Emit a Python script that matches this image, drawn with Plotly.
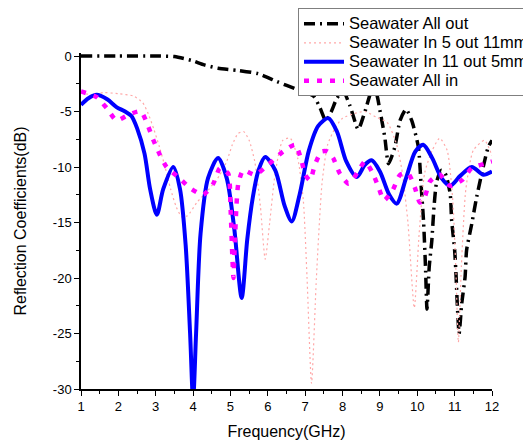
import plotly.graph_objects as go

# ---------------- data ----------------
f_out = [1.0, 2.0, 3.0, 3.5, 3.96, 4.3, 4.67, 5.2, 5.75, 6.24, 6.77, 7.22, 7.4, 7.55, 7.7, 7.85,
         8.02, 8.2, 8.42, 8.6, 8.8, 8.9, 9.0, 9.13, 9.23, 9.4, 9.54, 9.7, 9.85, 10.03, 10.1,
         10.17, 10.22, 10.26, 10.32, 10.39, 10.45, 10.52, 10.64, 10.75, 10.88, 10.92, 11.0,
         11.04, 11.07, 11.12, 11.19, 11.28, 11.32, 11.46, 11.59, 11.9, 12.0]
s_out = [0.0, 0.0, 0.0, -0.05, -0.4, -0.8, -1.1, -1.3, -1.6, -2.3, -3.0, -3.6, -4.7, -5.8, -5.0, -3.8,
         -3.2, -4.5, -6.6, -5.0, -3.0, -3.3, -4.9, -7.3, -9.7, -8.2, -5.8, -4.8, -5.8, -8.2, -11.5,
         -15.0, -19.0, -22.8, -19.0, -16.6, -13.5, -11.3, -10.3, -10.6, -12.4, -14.8, -17.5,
         -19.9, -22.3, -25.0, -22.3, -19.9, -17.5, -15.1, -12.7, -8.2, -7.6]

f_5_11 = [1.0, 1.3, 1.6, 2.0, 2.4, 2.65, 2.8, 2.95, 3.1, 3.25, 3.4, 3.55, 3.7, 3.85, 4.1, 4.4, 4.7,
          4.9, 5.05, 5.2, 5.35, 5.5, 5.65, 5.8, 5.93, 6.05, 6.2, 6.4, 6.6, 6.8, 6.95, 7.05, 7.17,
          7.3, 7.45, 7.6, 7.8, 8.0, 8.3, 8.6, 8.9, 9.2, 9.45, 9.6, 9.75, 9.92, 10.05, 10.2, 10.4,
          10.6, 10.8, 10.95, 11.03, 11.1, 11.18, 11.3, 11.5, 11.8, 12.0]
s_5_11 = [-3.3, -3.5, -3.3, -3.4, -3.6, -4.2, -5.2, -6.6, -8.2, -10.0, -12.0, -13.6, -14.5, -14.4,
          -13.2, -12.1, -10.8, -9.5, -8.0, -7.0, -6.8, -7.6, -9.5, -13.5, -18.3, -15.0, -10.5, -7.6,
          -7.4, -9.2, -13.0, -20.0, -29.5, -20.0, -11.5, -8.0, -6.5, -5.6, -5.2, -5.0, -5.5, -6.0,
          -8.0, -10.5, -15.0, -22.7, -16.0, -10.5, -8.5, -7.4, -8.5, -13.0, -19.0, -25.8, -19.0,
          -12.0, -8.5, -7.6, -9.0]

f_11_5 = [1.0, 1.2, 1.42, 1.7, 1.95, 2.18, 2.35, 2.5, 2.7, 2.85, 3.03, 3.2, 3.47, 3.65, 3.8, 3.92,
          4.0, 4.08, 4.2, 4.4, 4.67, 4.9, 5.1, 5.3, 5.45, 5.6, 5.75, 5.93, 6.2, 6.45, 6.64, 6.85,
          7.1, 7.35, 7.62, 7.85, 8.1, 8.38, 8.6, 8.78, 9.0, 9.25, 9.45, 9.7, 9.95, 10.16, 10.4,
          10.65, 10.88, 11.15, 11.46, 11.77, 12.0]
s_11_5 = [-4.4, -3.8, -3.5, -3.9, -4.6, -5.0, -5.4, -6.5, -8.8, -12.0, -14.3, -12.0, -10.0, -12.0,
          -17.0, -25.0, -31.0, -25.0, -16.0, -11.0, -9.2, -11.0, -15.5, -21.8, -16.5, -12.7, -10.3,
          -9.1, -10.3, -13.5, -14.9, -12.5, -8.5, -6.3, -5.6, -6.8, -9.5, -10.9, -9.8, -9.4, -10.4,
          -12.5, -13.3, -11.0, -8.6, -8.0, -9.2, -11.0, -11.7, -10.8, -10.0, -10.7, -10.4]

f_in = [1.0, 1.42, 1.69, 1.95, 2.27, 2.6, 2.94, 3.11, 3.29, 3.6, 3.92, 4.27, 4.54, 4.72, 4.94, 5.0,
        5.05, 5.08, 5.11, 5.16, 5.21, 5.34, 5.66, 6.01, 6.41, 6.73, 6.9, 7.0, 7.13, 7.26, 7.44,
        7.6, 7.75, 7.93, 8.16, 8.4, 8.6, 8.8, 8.96, 9.11, 9.34, 9.54, 9.76, 9.94, 10.07, 10.2,
        10.34, 10.6, 10.88, 11.19, 11.46, 11.81, 12.0]
s_in = [-3.2, -3.7, -4.7, -5.8, -5.3, -5.0, -7.6, -8.9, -10.0, -10.9, -11.9, -12.5, -11.5, -10.1,
        -10.6, -13.5, -18.0, -20.0, -17.5, -13.5, -11.5, -10.3, -10.7, -9.8, -8.6, -8.0, -9.4,
        -10.7, -11.2, -9.8, -8.6, -8.6, -9.2, -10.6, -11.5, -10.5, -9.5, -10.5, -11.8, -13.0,
        -12.1, -10.7, -10.6, -11.9, -13.2, -12.7, -11.3, -10.7, -11.7, -11.2, -10.1, -9.7, -9.5]

series_names = ["Seawater All out", "Seawater In 5 out 11mm", "Seawater In 11 out 5mm", "Seawater All in"]
x_ticks = [1, 2, 3, 4, 5, 6, 7, 8, 9, 10, 11, 12]
y_ticks = [0, -5, -10, -15, -20, -25, -30]
y_minor = [-2.5, -7.5, -12.5, -17.5, -22.5, -27.5]


def legend_label(name):
    # larger glyphs, compact legend row spacing
    return '<span style="font-size:16.5px">' + name + '</span>'


# ---------------- figure ----------------
fig = go.Figure()
fig.add_trace(go.Scatter(x=f_out, y=s_out, mode="lines", name=legend_label(series_names[0]),
                         line=dict(color="black", width=3.5, dash="11px,5px,2px,5px",
                                   shape="spline", smoothing=0.6)))
fig.add_trace(go.Scatter(x=f_5_11, y=s_5_11, mode="lines", name=legend_label(series_names[1]),
                         line=dict(color="#FFA8A8", width=1.2, dash="2px,3px",
                                   shape="spline", smoothing=0.6)))
fig.add_trace(go.Scatter(x=f_11_5, y=s_11_5, mode="lines", name=legend_label(series_names[2]),
                         line=dict(color="#0000FF", width=4, shape="spline", smoothing=0.8)))
fig.add_trace(go.Scatter(x=f_in, y=s_in, mode="lines", name=legend_label(series_names[3]),
                         line=dict(color="#FF00FF", width=4.5, dash="5px,8px",
                                   shape="spline", smoothing=0.6)))

font_family = "Liberation Sans, Arial, sans-serif"
# the page body has an 8px margin, so the figure is sized/offset to compensate
fig.update_layout(
    width=523, height=437,
    margin=dict(l=73, r=39, t=45, b=56, autoexpand=False),
    paper_bgcolor="white", plot_bgcolor="white",
    font=dict(family=font_family, size=13, color="black"),
    showlegend=True,
    legend=dict(x=0.528, y=1.133, xanchor="left", yanchor="top",
                bgcolor="white", bordercolor="#7f7f7f", borderwidth=1,
                font=dict(family=font_family, size=12.2, color="black"),
                tracegroupgap=0, itemwidth=40),
    xaxis=dict(range=[1, 12], tickmode="array", tickvals=x_ticks,
               ticktext=[str(v) for v in x_ticks],
               ticks="outside", ticklen=5, tickwidth=1.3, tickcolor="black",
               minor=dict(dtick=0.5, ticks="outside", ticklen=3, tickwidth=1, tickcolor="black",
                          showgrid=False),
               showline=True, linecolor="black", linewidth=1.5,
               showgrid=False, zeroline=False,
               tickfont=dict(size=13),
               title=dict(text="Frequency(GHz)", font=dict(size=16), standoff=12)),
    yaxis=dict(range=[-30, 0.27], tickmode="array", tickvals=y_ticks,
               ticktext=[str(v) for v in y_ticks],
               ticks="outside", ticklen=5, tickwidth=1.3, tickcolor="black",
               minor=dict(tickvals=y_minor, ticks="outside",
                          ticklen=3, tickwidth=1, tickcolor="black", showgrid=False),
               showline=True, linecolor="black", linewidth=1.5,
               showgrid=False, zeroline=False,
               tickfont=dict(size=13),
               title=dict(text="Reflection Coefficients(dB)", font=dict(size=16), standoff=22)),
)

fig.write_html("out.html")
